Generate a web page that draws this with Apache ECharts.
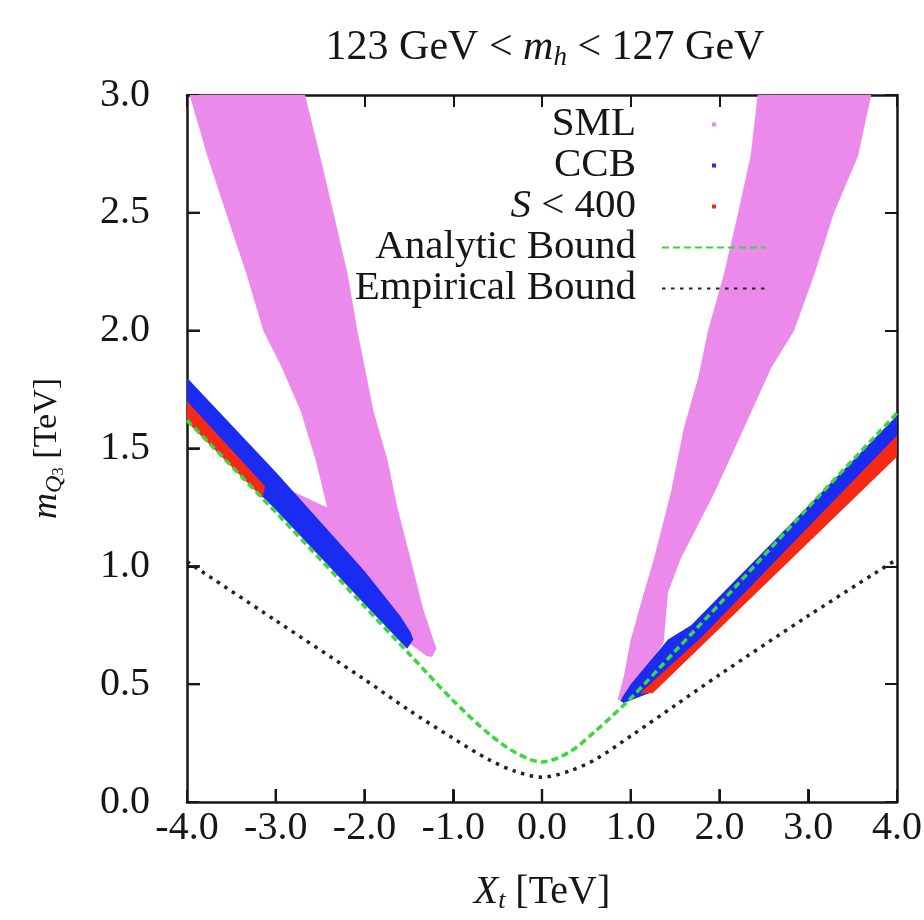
<!DOCTYPE html>
<html>
<head>
<meta charset="utf-8">
<script src="https://cdn.jsdelivr.net/npm/echarts@6/dist/echarts.min.js"></script>
<style>
  html, body { margin: 0; padding: 0; background: #fff; }
  #chart { width: 924px; height: 920px; }
</style>
</head>
<body>
<div id="chart"></div>
<script>
// axis range and tick values
var xRange = [-4, 4];
var yRange = [0, 3];
var xTicks = [-3, -2, -1, 0, 1, 2, 3];
var yTicks = [0.5, 1.0, 1.5, 2.0, 2.5];

// region outlines [Xt, mQ3]
var smlLeft = [
  [-3.97, 3.0], [-3.77, 2.74], [-3.56, 2.50], [-3.33, 2.24], [-3.14, 2.00],
  [-2.94, 1.85], [-2.72, 1.66], [-2.55, 1.45], [-2.42, 1.25], [-2.88, 1.33],
  [-1.70, 0.78], [-1.52, 0.68], [-1.30, 0.62], [-1.24, 0.615], [-1.19, 0.65],
  [-1.34, 0.82], [-1.48, 1.03], [-1.63, 1.25], [-1.74, 1.45], [-1.90, 1.66],
  [-2.00, 1.85], [-2.08, 2.00], [-2.19, 2.24], [-2.35, 2.50], [-2.50, 2.74],
  [-2.67, 3.0]
];
var smlRight = [
  [2.43, 3.0], [2.35, 2.74], [2.21, 2.50], [2.05, 2.24], [1.87, 2.00],
  [1.76, 1.80], [1.60, 1.59], [1.45, 1.31], [1.26, 1.03], [1.15, 0.89],
  [1.00, 0.69], [0.92, 0.53], [0.85, 0.43], [0.95, 0.45], [1.37, 0.675],
  [1.42, 0.89], [1.56, 1.03], [1.94, 1.31], [2.28, 1.59], [2.58, 1.84],
  [2.84, 2.00], [3.07, 2.24], [3.29, 2.50], [3.56, 2.74], [3.71, 3.0]
];
var ccbLeft = [
  [-4.0, 1.80], [-3.0, 1.40], [-2.0, 0.98], [-1.6, 0.79], [-1.48, 0.72],
  [-1.45, 0.69], [-1.52, 0.65], [-2.0, 0.84], [-3.0, 1.24], [-4.0, 1.615]
];
var ccbRight = [
  [0.88, 0.43], [1.00, 0.50], [1.42, 0.69], [1.68, 0.75], [4.0, 1.64],
  [4.0, 1.47], [1.20, 0.46], [0.92, 0.42]
];
var s400Left = [[-4.0, 1.70], [-3.12, 1.34], [-3.15, 1.29], [-4.0, 1.615]];
var s400Right = [[1.10, 0.46], [1.80, 0.70], [4.0, 1.555], [4.0, 1.465], [1.25, 0.462]];

// bound curves
var boundX = [-4, -3, -2, -1.5, -1, -0.6, -0.3, 0, 0.3, 0.6, 1, 1.5, 2, 3, 4];
var analyticY = [1.62, 1.23, 0.83, 0.63, 0.43, 0.29, 0.21, 0.17, 0.21, 0.30, 0.44, 0.64, 0.84, 1.25, 1.65];
var empiricalY = [1.02, 0.77, 0.52, 0.39, 0.27, 0.18, 0.13, 0.105, 0.13, 0.18, 0.28, 0.41, 0.54, 0.79, 1.03];

var serif = 'Liberation Serif';
var ink = '#161616';
var dot = 'path://M0,0M104,24M50,10h4v4h-4Z';
var hidden = { color: 'rgba(0,0,0,0)', borderWidth: 0 };

function pairs(xs, ys) {
  return xs.map(function (x, i) { return [x, ys[i]]; });
}

function region(name, color, polys) {
  return {
    type: 'custom',
    name: name,
    coordinateSystem: 'cartesian2d',
    clip: true,
    itemStyle: { color: color },
    data: polys.map(function (p, i) { return [p[0][0], p[0][1], i]; }),
    encode: { x: 0, y: 1 },
    renderItem: function (params, api) {
      var poly = polys[api.value(2)];
      return {
        type: 'polygon',
        shape: { points: poly.map(function (v) { return api.coord(v); }) },
        style: { fill: color }
      };
    }
  };
}

// inner tick marks on the bottom and left frame edges
var frameTicks = {
  type: 'custom',
  name: 'ticks',
  coordinateSystem: 'cartesian2d',
  silent: true,
  clip: false,
  z: 100,
  data: xTicks.map(function (v) { return [v, yRange[0], 0]; })
    .concat(yTicks.map(function (v) { return [xRange[0], v, 1]; })),
  encode: { x: 0, y: 1 },
  renderItem: function (params, api) {
    var p = api.coord([api.value(0), api.value(1)]);
    var vertical = api.value(2) === 0;
    return {
      type: 'rect',
      shape: vertical
        ? { x: p[0] - 1.2, y: p[1] - 13, width: 2.4, height: 13 }
        : { x: p[0], y: p[1] - 1.2, width: 13, height: 2.4 },
      style: { fill: ink }
    };
  }
};

function ticks() {
  return { show: true, inside: true, length: 12, lineStyle: { color: ink, width: 2 } };
}
function axisLine() {
  return { show: true, onZero: false, lineStyle: { color: ink, width: 2.5 } };
}
function tickLabels(margin) {
  return {
    margin: margin, fontFamily: serif, fontSize: 40, color: ink,
    formatter: function (v) { return v.toFixed(1); }
  };
}

var chart = echarts.init(document.getElementById('chart'));

chart.setOption({
  animation: false,
  backgroundColor: '#fff',
  title: {
    text: '123 GeV < {i|m}{s|h} < 127 GeV',
    left: 540,
    top: 20,
    textAlign: 'center',
    textStyle: {
      fontFamily: serif, fontSize: 42, fontWeight: 'normal', color: ink, lineHeight: 46,
      rich: {
        i: { fontFamily: serif, fontSize: 42, fontStyle: 'italic', color: ink, lineHeight: 46 },
        s: { fontFamily: serif, fontSize: 27, fontStyle: 'italic', color: ink, lineHeight: 25, verticalAlign: 'bottom' }
      }
    }
  },
  grid: { left: 187, right: 27, top: 95, bottom: 118, outerBoundsMode: 'none' },
  legend: {
    orient: 'vertical',
    align: 'right',
    right: 157,
    top: 104,
    padding: 0,
    itemGap: 0,
    itemWidth: 104,
    itemHeight: 24,
    selectedMode: false,
    textStyle: {
      fontFamily: serif, fontSize: 41, color: ink, lineHeight: 39, padding: [0, 21, 0, 0],
      rich: { i: { fontFamily: serif, fontSize: 41, fontStyle: 'italic', color: ink, lineHeight: 39 } }
    },
    formatter: function (n) { return n === 'S < 400' ? '{i|S} < 400' : n; },
    data: [
      { name: 'SML', icon: dot },
      { name: 'CCB', icon: dot },
      { name: 'S < 400', icon: dot },
      { name: 'Analytic Bound', itemStyle: hidden },
      { name: 'Empirical Bound', itemStyle: hidden }
    ]
  },
  xAxis: [{
    type: 'value', min: xRange[0], max: xRange[1], interval: 1, position: 'bottom',
    axisLine: axisLine(), axisTick: ticks(), splitLine: { show: false },
    axisLabel: tickLabels(6),
    name: '{i|X}{s|t} [TeV]',
    nameLocation: 'middle',
    nameGap: 68,
    nameTextStyle: {
      fontFamily: serif, fontSize: 40, color: ink, lineHeight: 44,
      rich: {
        i: { fontFamily: serif, fontSize: 40, fontStyle: 'italic', color: ink, lineHeight: 44 },
        s: { fontFamily: serif, fontSize: 26, fontStyle: 'italic', color: ink, lineHeight: 24, verticalAlign: 'bottom' }
      }
    }
  }, {
    type: 'value', min: xRange[0], max: xRange[1], interval: 1, position: 'top',
    axisLine: axisLine(), axisTick: ticks(), splitLine: { show: false }, axisLabel: { show: false }
  }],
  yAxis: [{
    type: 'value', min: yRange[0], max: yRange[1], interval: 0.5, position: 'left',
    axisLine: axisLine(), axisTick: ticks(), splitLine: { show: false },
    axisLabel: tickLabels(37),
    name: '{i|m}{q|Q}{s|3} [TeV]',
    nameLocation: 'middle',
    nameGap: 120,
    nameTextStyle: {
      fontFamily: serif, fontSize: 34, color: ink, lineHeight: 40,
      rich: {
        i: { fontFamily: serif, fontSize: 36, fontStyle: 'italic', color: ink, lineHeight: 40 },
        q: { fontFamily: serif, fontSize: 24, fontStyle: 'italic', color: ink, lineHeight: 24, verticalAlign: 'bottom' },
        s: { fontFamily: serif, fontSize: 17, color: ink, lineHeight: 13, verticalAlign: 'bottom' }
      }
    }
  }, {
    type: 'value', min: yRange[0], max: yRange[1], interval: 0.5, position: 'right',
    axisLine: axisLine(), axisTick: ticks(), splitLine: { show: false }, axisLabel: { show: false }
  }],
  series: [
    region('SML', '#eb8aeb', [smlLeft, smlRight]),
    region('CCB', '#1a2cf2', [ccbLeft, ccbRight]),
    region('S < 400', '#f52a16', [s400Left, s400Right]),
    {
      type: 'line', name: 'Analytic Bound', data: pairs(boundX, analyticY),
      smooth: 0.3, symbol: 'none', z: 5,
      lineStyle: { color: '#3ad83a', width: 3.5, type: [7, 4] },
      itemStyle: { color: '#3ad83a' }
    },
    {
      type: 'line', name: 'Empirical Bound', data: pairs(boundX, empiricalY),
      smooth: 0.3, symbol: 'none', z: 5,
      lineStyle: { color: '#222', width: 3.5, type: [3.5, 5.5] },
      itemStyle: { color: '#222' }
    },
    frameTicks
  ]
});
</script>
</body>
</html>
